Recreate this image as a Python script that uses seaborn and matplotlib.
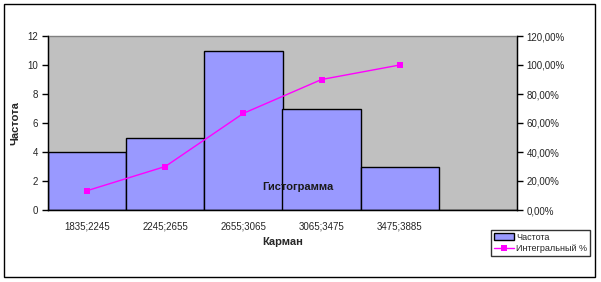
import matplotlib
matplotlib.use("Agg")
import matplotlib.pyplot as plt
import seaborn as sns
import pandas as pd
from matplotlib.patches import Rectangle, Patch
from matplotlib.lines import Line2D
from matplotlib.ticker import FixedLocator, FuncFormatter

categories = ["1835;2245", "2245;2655", "2655;3065", "3065;3475", "3475;3885", ""]
frequency = [4, 5, 11, 7, 3, 0]
cumulative_pct = [13.33, 30.0, 66.67, 90.0, 100.0]
left_ticks = [0, 2, 4, 6, 8, 10, 12]
right_ticks = [0, 20, 40, 60, 80, 100, 120]

sns.set_style("white")
plt.rcParams["font.family"] = ["Liberation Sans", "DejaVu Sans"]

W, H = 601, 282
fig = plt.figure(figsize=(W / 100, H / 100), dpi=100)
fig.patch.set_facecolor("white")

x0, x1, y0, y1 = 48, 517, 36, 210
ax = fig.add_axes([x0 / W, 1 - y1 / H, (x1 - x0) / W, (y1 - y0) / H])
ax.set_facecolor("#C0C0C0")

df = pd.DataFrame({"cat": categories, "freq": frequency})
sns.barplot(data=df, x="cat", y="freq", order=categories, color="#9999FF",
            saturation=1, width=1.0, edgecolor="black", linewidth=1.0, ax=ax)

ax.set_xlim(-0.5, len(categories) - 0.5)
ax.set_ylim(0, 12)
ax.set_yticks(left_ticks)
ax.set_yticklabels([str(t) for t in left_ticks], fontsize=7)
ax.tick_params(axis="y", direction="out", length=4, width=1, color="black", pad=3)

# x ticks: marks at boundaries, labels at centers
ax.xaxis.set_major_locator(FixedLocator([i - 0.5 for i in range(len(categories) + 1)]))
ax.xaxis.set_major_formatter(FuncFormatter(lambda v, p: ""))
ax.set_xticks(list(range(len(categories))), labels=categories, minor=True, fontsize=7)
ax.tick_params(axis="x", which="major", direction="out", length=4, width=1, color="black")
ax.tick_params(axis="x", which="minor", length=0, pad=8)

ax.set_xlabel("Карман", fontsize=8, fontweight="bold", labelpad=4)
ax.set_ylabel("Частота", fontsize=8, fontweight="bold")
ax.yaxis.set_label_coords((20 - x0) / (x1 - x0), 0.5)

for s in ["left", "bottom", "right"]:
    ax.spines[s].set_color("black")
    ax.spines[s].set_linewidth(1)
ax.spines["top"].set_color("#808080")
ax.spines["top"].set_linewidth(1)

ax2 = ax.twinx()
line_df = pd.DataFrame({"x": list(range(len(cumulative_pct))), "pct": cumulative_pct})
sns.lineplot(data=line_df, x="x", y="pct", color="#FF00FF", linewidth=1,
             marker="s", markersize=5, markeredgewidth=0, ax=ax2)
ax2.set_ylim(0, 120)
ax2.set_yticks(right_ticks)
ax2.set_yticklabels([f"{t},00%" for t in right_ticks], fontsize=7)
ax2.tick_params(axis="y", direction="out", length=4, width=1, color="black", pad=3)
ax2.set_ylabel("")
ax2.set_xlabel("")
for s in ["left", "bottom", "right"]:
    ax2.spines[s].set_color("black")
ax2.spines["top"].set_visible(False)
ax2.set_xlim(-0.5, len(categories) - 0.5)

ax.text(2.7, 1.6, "Гистограмма", fontsize=8, fontweight="bold", color="#1a1a1a",
        ha="center", va="center", zorder=10)

# legend
handles = [Patch(facecolor="#9999FF", edgecolor="black", linewidth=1),
           Line2D([], [], color="#FF00FF", marker="s", markersize=4, markeredgewidth=0, linewidth=1)]
leg = fig.legend(handles, ["Частота", "Интегральный %"], loc="upper left",
                 bbox_to_anchor=(491 / W, 1 - 230 / H), fontsize=6.5, frameon=True,
                 fancybox=False, edgecolor="black", borderpad=0.3, handlelength=2.2,
                 handletextpad=0.3, labelspacing=0.3, borderaxespad=0)
leg.get_frame().set_linewidth(1)

# outer chart border
fig.patches.append(Rectangle((4 / W, 1 - 277 / H), (595 - 4) / W, (277 - 4) / H,
                             transform=fig.transFigure, fill=False,
                             edgecolor="black", linewidth=1))

fig.savefig("out.png", dpi=100)
